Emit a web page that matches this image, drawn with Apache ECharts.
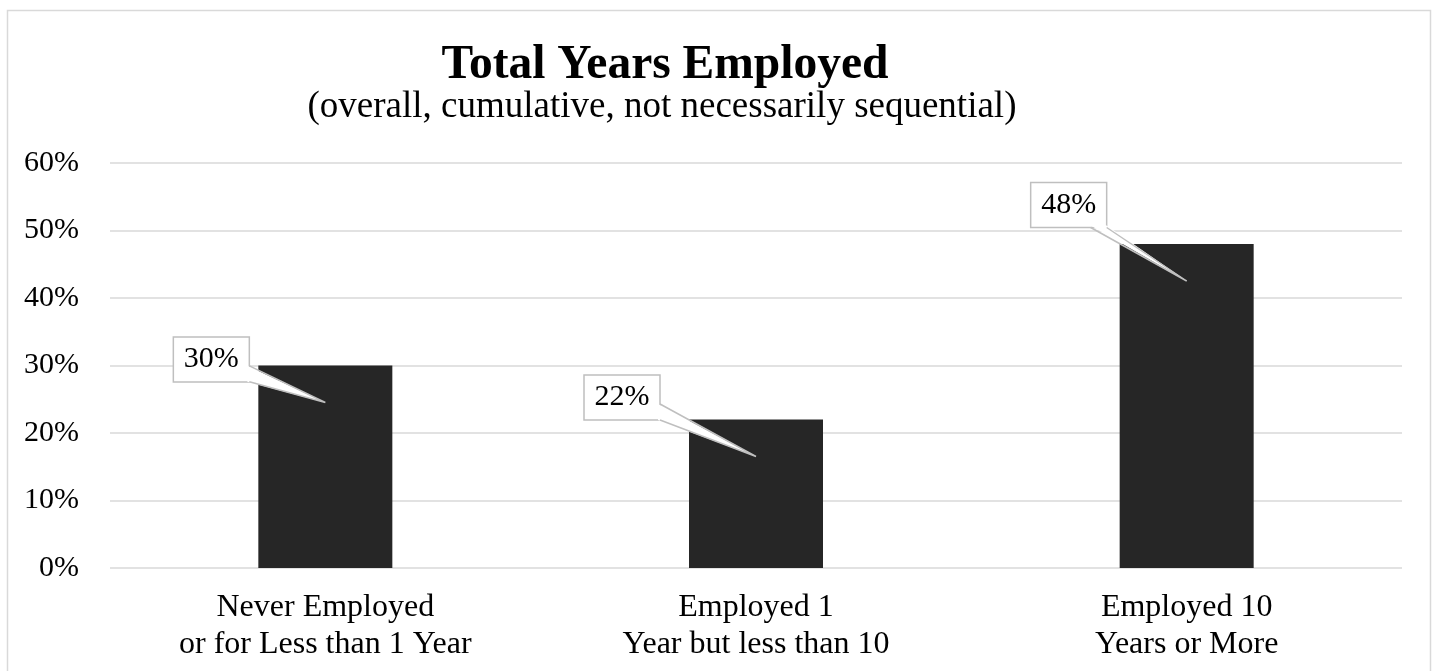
<!DOCTYPE html>
<html>
<head>
<meta charset="utf-8">
<title>Total Years Employed</title>
<script src="https://cdn.jsdelivr.net/npm/echarts@6/dist/echarts.min.js"></script>
<style>
  html, body { margin: 0; padding: 0; background: #ffffff; }
  #chart { width: 1434px; height: 671px; }
</style>
</head>
<body>
<div id="chart"></div>
<script>
// Share of respondents by total years employed
const categories = [
  'Never Employed\nor for Less than 1 Year',
  'Employed 1\nYear but less than 10',
  'Employed 10\nYears or More'
];
const shares = [30, 22, 48];
const yTicks = [0, 10, 20, 30, 40, 50, 60];

const titleText = 'Total Years Employed';
const subtitleText = '(overall, cumulative, not necessarily sequential)';

const serif = '"Liberation Serif", "Times New Roman", serif';

// Callout geometry: box centre offset from the bar top, in pixels
const calloutStyle = {
  boxW: 76,
  boxH: 45,
  tipDrop: 37,
  baseHalf: 8,
  offsets: [[-114, -6], [-134, -22], [-118, -39]]
};

function clamp(v, a, b) { return Math.max(a, Math.min(b, v)); }

function renderCallout(params, api) {
  const i = params.dataIndex;
  const v = api.value(1);
  const top = api.coord([api.value(0), v]);
  const s = calloutStyle;
  const off = s.offsets[i];
  const cx = top[0] + off[0];
  const cy = top[1] + off[1];
  const hw = s.boxW / 2, hh = s.boxH / 2;
  const tip = [top[0], top[1] + s.tipDrop];
  const dx = tip[0] - cx, dy = tip[1] - cy;
  const tx = dx !== 0 ? hw / Math.abs(dx) : Infinity;
  const ty = dy !== 0 ? hh / Math.abs(dy) : Infinity;
  let b1, b2, i1, i2;
  if (tx < ty) {
    const sx = Math.sign(dx);
    const ex = cx + sx * hw;
    const my = clamp(cy + dy * tx, cy - hh + s.baseHalf, cy + hh - s.baseHalf);
    b1 = [ex, my - s.baseHalf]; b2 = [ex, my + s.baseHalf];
    i1 = [ex - sx * 2, b1[1]]; i2 = [ex - sx * 2, b2[1]];
  } else {
    const sy = Math.sign(dy);
    const ey = cy + sy * hh;
    const mx = clamp(cx + dx * ty, cx - hw + s.baseHalf, cx + hw - s.baseHalf);
    b1 = [mx - s.baseHalf, ey]; b2 = [mx + s.baseHalf, ey];
    i1 = [b1[0], ey - sy * 2]; i2 = [b2[0], ey - sy * 2];
  }
  return {
    type: 'group',
    children: [
      {
        type: 'rect',
        shape: { x: cx - hw, y: cy - hh, width: s.boxW, height: s.boxH },
        style: { fill: '#ffffff', stroke: '#bfbfbf', lineWidth: 1.5 }
      },
      {
        type: 'polygon',
        shape: { points: [i1, tip, i2] },
        style: { fill: '#ffffff', stroke: null }
      },
      {
        type: 'polyline',
        shape: { points: [b1, tip, b2] },
        style: { fill: null, stroke: '#bfbfbf', lineWidth: 1.5 }
      },
      {
        type: 'text',
        x: cx,
        y: cy,
        style: {
          text: v + '%',
          fontFamily: serif,
          fontSize: 30,
          fill: '#000000',
          align: 'center',
          verticalAlign: 'middle'
        }
      }
    ]
  };
}

const chart = echarts.init(document.getElementById('chart'), null, { renderer: 'canvas' });

chart.setOption({
  animation: false,
  backgroundColor: '#ffffff',
  graphic: [
    {
      type: 'rect',
      z: -10,
      shape: { x: 7.5, y: 10.5, width: 1423, height: 720 },
      style: { fill: '#ffffff', stroke: '#d9d9d9', lineWidth: 1.5 }
    }
  ],
  title: [
    {
      text: titleText,
      left: 660,
      textAlign: 'center',
      top: 37,
      textStyle: { fontFamily: serif, fontSize: 47.5, fontWeight: 'bold', color: '#000000' }
    },
    {
      text: subtitleText,
      left: 657,
      textAlign: 'center',
      top: 84,
      textStyle: { fontFamily: serif, fontSize: 37, fontWeight: 'normal', color: '#000000' }
    }
  ],
  grid: { left: 110, right: 32, top: 163, bottom: 103 },
  xAxis: {
    type: 'category',
    data: categories,
    axisLine: { show: false },
    axisTick: { show: false },
    axisLabel: {
      fontFamily: serif,
      fontSize: 32,
      lineHeight: 37,
      color: '#000000',
      margin: 21,
      interval: 0
    }
  },
  yAxis: {
    type: 'value',
    min: yTicks[0],
    max: yTicks[yTicks.length - 1],
    interval: yTicks[1] - yTicks[0],
    axisLine: { show: false },
    axisTick: { show: false },
    axisLabel: {
      fontFamily: serif,
      fontSize: 30,
      color: '#000000',
      margin: 31,
      formatter: '{value}%'
    },
    splitLine: { lineStyle: { color: '#d9d9d9', width: 1.5 } }
  },
  series: [
    {
      type: 'bar',
      data: shares,
      barWidth: 134,
      itemStyle: { color: '#262626' },
      z: 2
    },
    {
      type: 'custom',
      data: shares.map((v, i) => [i, v]),
      renderItem: renderCallout,
      z: 5,
      clip: false
    }
  ]
});
</script>
</body>
</html>
